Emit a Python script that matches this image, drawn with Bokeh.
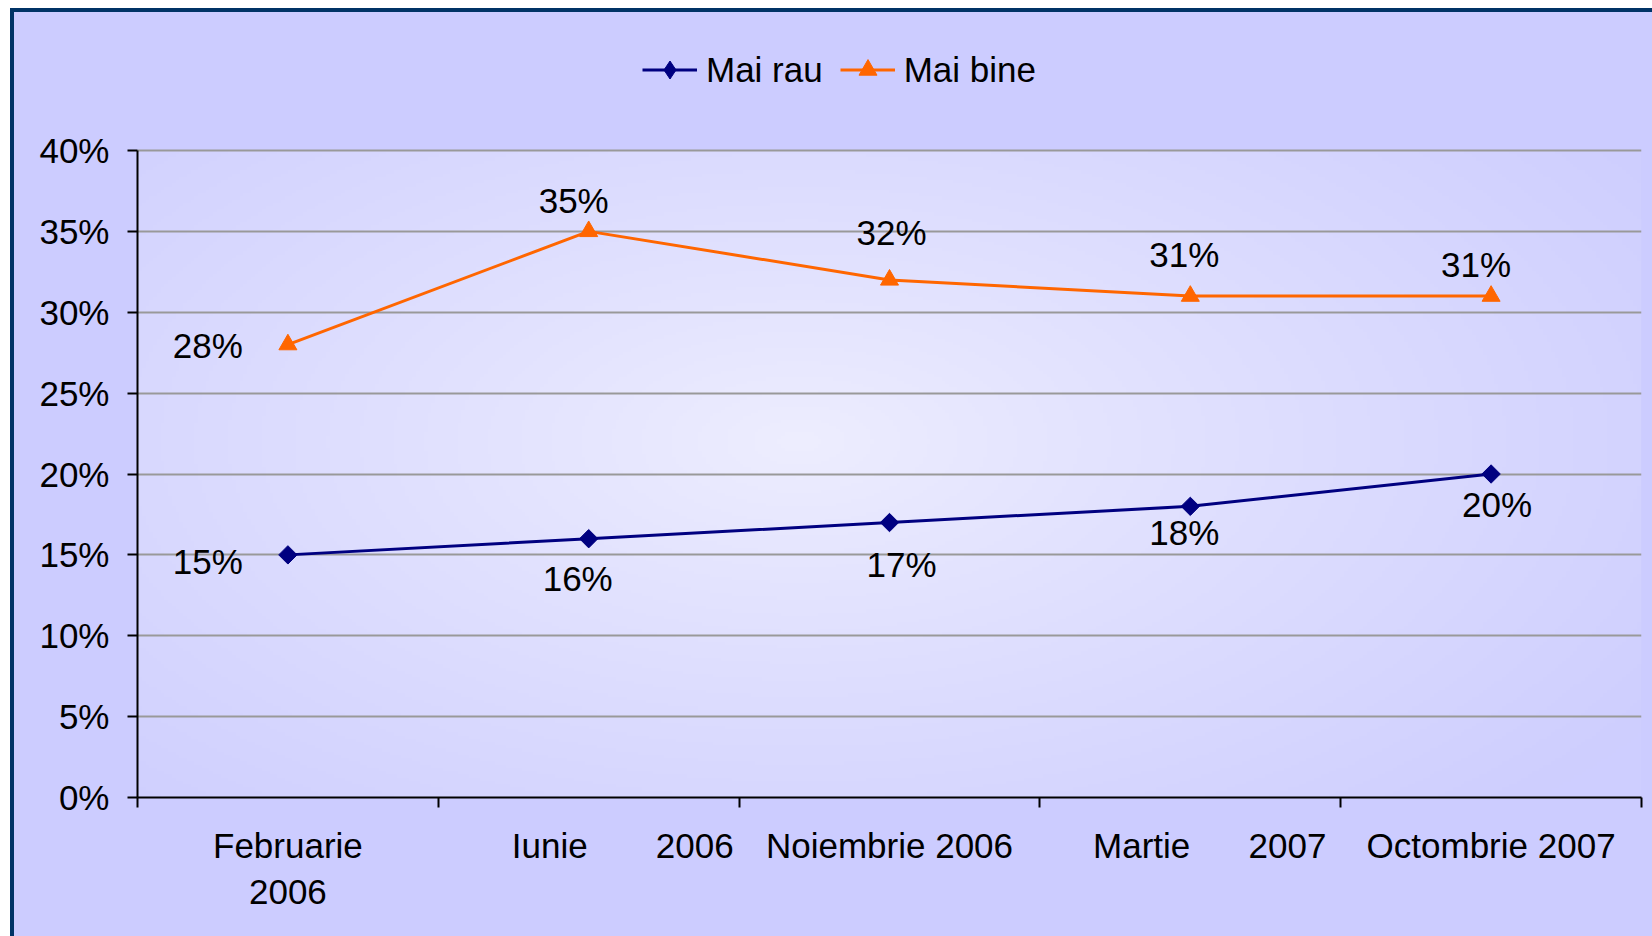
import numpy as np
from bokeh.plotting import figure
from bokeh.models import (Range1d, FixedTicker, Legend, LegendItem,
                          ColumnDataSource, InlineStyleSheet)
from bokeh.core.properties import value
from bokeh.embed import file_html
from bokeh.resources import INLINE

# ---------------- data ----------------
categories = ["Februarie 2006", "Iunie 2006", "Noiembrie 2006",
              "Martie 2007", "Octombrie 2007"]
NB = "\u00a0"
tick_labels = ["Februarie\n2006",
               NB * 7 + "Iunie" + NB * 7 + "2006",
               "Noiembrie 2006",
               NB * 4 + "Martie" + NB * 6 + "2007",
               "Octombrie 2007"]
mai_rau = [15, 16, 17, 18, 20]
mai_bine = [28, 35, 32, 31, 31]
y_ticks = [0, 5, 10, 15, 20, 25, 30, 35, 40]
y_tick_labels = ["0%", "5%", "10%", "15%", "20%", "25%", "30%", "35%", "40%"]

# label offsets (screen px) - style only
rau_xoff = [-80, -11, 12, -6, 6]
rau_yoff = [7, 40, 42, 26, 30]
bine_xoff = [-80, -15, 2, -6, -15]
bine_yoff = [1, -31, -47, -42, -32]

FONT = "Liberation Sans"
FS = "35px"
NAVY = "#000080"
ORANGE = "#FF6600"
LAVENDER = "#CCCCFF"

n = len(categories)
xs = list(range(n))
x0, x1 = -0.5, n - 0.5
y0, y1 = y_ticks[0], y_ticks[-1]

# layout (px)
W, H = 1642, 928
MB_TOP, MB_BOTTOM, MB_LEFT, MB_RIGHT = 10, 143, 123, 15
PLOT_H = 647                      # pixel height of 0..40 %
FRAME_H = H - MB_TOP - MB_BOTTOM
y_top = y1 * FRAME_H / PLOT_H      # headroom above 40% for the legend

p = figure(width=W, height=H,
           x_range=Range1d(x0, x1), y_range=Range1d(y0, y_top),
           output_backend="svg", toolbar_location=None,
           min_border_left=MB_LEFT, min_border_right=MB_RIGHT,
           min_border_top=MB_TOP, min_border_bottom=MB_BOTTOM)
p.border_fill_color = LAVENDER
p.background_fill_color = LAVENDER
p.outline_line_color = None
p.stylesheets = [InlineStyleSheet(css=":host { margin-top: 8px; margin-left: 10px; "
                                      "background-color: #CCCCFF; "
                                      "border-top: 4px solid #003366; border-left: 4px solid #003366; }")]

# background gradient (decorative) over the 0..40 plot area
nx, ny = 400, 200
gx = np.linspace(x0, x1, nx)
gy = np.linspace(y0, y1, ny)
GX, GY = np.meshgrid(gx, gy)
t = np.sqrt(((GX - 1.7) / 3.4) ** 2 + ((GY - 22) / 32.0) ** 2)
t = np.clip(t, 0, 1) ** 0.9
c0 = np.array([238, 238, 254])
c1 = np.array([206, 206, 255])
img = np.empty((ny, nx), dtype=np.uint32)
view = img.view(dtype=np.uint8).reshape((ny, nx, 4))
for k in range(3):
    view[..., k] = (c0[k] + (c1[k] - c0[k]) * t).astype(np.uint8)
view[..., 3] = 255
p.image_rgba(image=[img], x=x0, y=y0, dw=x1 - x0, dh=y1 - y0, level="image")

# grid
p.xgrid.visible = False
p.ygrid.ticker = FixedTicker(ticks=y_ticks)
p.ygrid.grid_line_color = "#999999"
p.ygrid.grid_line_width = 2

# y axis
ya = p.yaxis[0]
ya.bounds = (y0, y1)
ya.ticker = FixedTicker(ticks=y_ticks)
ya.major_label_overrides = {v: s for v, s in zip(y_ticks, y_tick_labels)}
ya.axis_line_color = "black"
ya.axis_line_width = 2
ya.major_tick_line_color = "black"
ya.major_tick_line_width = 2
ya.major_tick_in = 0
ya.major_tick_out = 10
ya.minor_tick_line_color = None
ya.major_label_standoff = 18
ya.major_label_text_font = FONT
ya.major_label_text_font_size = FS
ya.major_label_text_color = "black"

# x axis
xa = p.xaxis[0]
xa.ticker = FixedTicker(ticks=xs, minor_ticks=[i - 0.5 for i in range(n + 1)])
xa.major_label_overrides = {i: s for i, s in zip(xs, tick_labels)}
xa.axis_line_color = "black"
xa.axis_line_width = 2
xa.major_tick_line_color = None
xa.major_tick_in = 0
xa.major_tick_out = 0
xa.minor_tick_line_color = "black"
xa.minor_tick_line_width = 2
xa.minor_tick_in = 0
xa.minor_tick_out = 10
xa.major_label_standoff = 18
xa.major_label_text_font = FONT
xa.major_label_text_font_size = FS
xa.major_label_text_color = "black"
xa.major_label_text_line_height = 1.2

# series
r1 = p.line(xs, mai_rau, line_color=NAVY, line_width=3)
s1 = p.scatter(xs, mai_rau, marker="square", size=13, angle=np.pi / 4,
               fill_color=NAVY, line_color=NAVY)
# legend key marker (legend keys are drawn unrotated, so use a diamond shape)
s1_key = p.scatter(xs, mai_rau, marker="diamond", fill_color=NAVY,
                   line_color=NAVY, visible=False)
r2 = p.line(xs, mai_bine, line_color=ORANGE, line_width=3)
s2 = p.scatter(xs, mai_bine, marker="triangle", size=18,
               fill_color=ORANGE, line_color=ORANGE)

# data labels
src_rau = ColumnDataSource(dict(x=xs, y=mai_rau, t=[f"{v}%" for v in mai_rau],
                                xo=rau_xoff, yo=rau_yoff))
src_bine = ColumnDataSource(dict(x=xs, y=mai_bine, t=[f"{v}%" for v in mai_bine],
                                 xo=bine_xoff, yo=bine_yoff))
for src in (src_rau, src_bine):
    p.text(x="x", y="y", text="t", x_offset="xo", y_offset="yo", source=src,
           text_font=value(FONT), text_font_size=FS, text_color="black",
           text_align="center", text_baseline="middle")

legend = Legend(items=[LegendItem(label="Mai rau", renderers=[r1, s1_key]),
                       LegendItem(label="Mai bine", renderers=[r2, s2])],
                orientation="horizontal", location=(505, 705))
legend.label_text_font = FONT
legend.label_text_font_size = FS
legend.label_text_color = "black"
legend.glyph_width = 55
legend.glyph_height = 45
legend.label_standoff = 9
legend.spacing = 17
legend.padding = 0
legend.margin = 0
legend.border_line_color = None
legend.background_fill_alpha = 0
p.add_layout(legend)

open("out.html", "w").write(file_html(p, INLINE))
